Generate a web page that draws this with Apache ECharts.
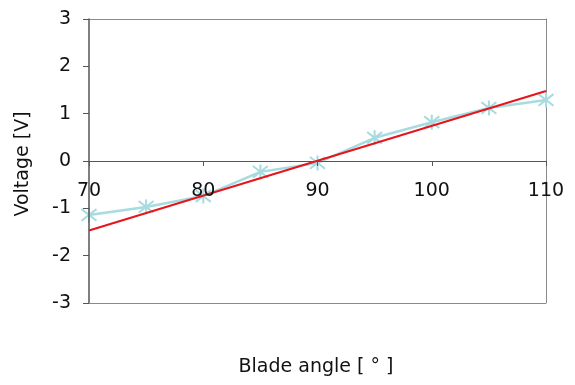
<!DOCTYPE html>
<html>
<head>
<meta charset="utf-8">
<script src="https://cdn.jsdelivr.net/npm/echarts@6/dist/echarts.min.js"></script>
<style>
  html, body { margin: 0; padding: 0; background: #fff; }
  #chart { width: 575px; height: 385px; }
</style>
</head>
<body>
<div id="chart"></div>
<script>
// Measured voltage against blade angle, plus the linear fit
const bladeAngles = [70, 75, 80, 85, 90, 95, 100, 105, 110];
const voltages = [-1.14, -0.97, -0.74, -0.23, -0.04, 0.49, 0.82, 1.12, 1.29];
const fitAngles = [70, 110];
const fitVoltages = [-1.47, 1.48];
const xTicks = [70, 80, 90, 100, 110];
const yTicks = [-3, -2, -1, 0, 1, 2, 3];

const font = '"DejaVu Sans", Verdana, sans-serif';
const frameColor = '#8a8a8a';
const xMin = xTicks[0], xMax = xTicks[xTicks.length - 1];
const yMin = yTicks[0], yMax = yTicks[yTicks.length - 1];

// plain axis used only to draw one side of the plot frame
function frameAxis(position, range) {
  return {
    type: 'value', position: position, min: range[0], max: range[1],
    axisLine: { show: true, onZero: false, lineStyle: { color: frameColor, width: 1 } },
    axisTick: { show: false }, axisLabel: { show: false }, splitLine: { show: false }
  };
}

const chart = echarts.init(document.getElementById('chart'));

chart.setOption({
  animation: false,
  grid: { left: 89, right: 29, top: 19, bottom: 82 },
  xAxis: [
    {
      type: 'value', min: xMin, max: xMax, interval: 10,
      axisLine: { onZero: true, lineStyle: { color: '#555', width: 1 } },
      axisTick: { show: true, length: 5, lineStyle: { color: '#555' } },
      // tick labels sit just under the zero line
      axisLabel: { color: '#111', fontSize: 19, fontFamily: font, margin: -121 },
      splitLine: { show: false },
      z: 5
    },
    frameAxis('top', [xMin, xMax])
  ],
  yAxis: [
    {
      type: 'value', min: yMin, max: yMax, interval: 1,
      axisLine: { show: true, onZero: false, lineStyle: { color: '#555', width: 1.5 } },
      axisTick: { show: true, length: 6, lineStyle: { color: '#555' } },
      axisLabel: { color: '#111', fontSize: 19, fontFamily: font, margin: 18 },
      splitLine: { show: false },
      z: 5
    },
    frameAxis('right', [yMin, yMax])
  ],
  series: [
    {
      type: 'line',
      data: bladeAngles.map((a, i) => [a, voltages[i]]),
      lineStyle: { color: '#a6dbe0', width: 2.5 },
      symbol: 'path://M-7,-7L7,7M-7,7L7,-7M0,-9L0,9',
      symbolSize: 15,
      itemStyle: { color: 'rgba(0,0,0,0)', borderColor: '#a6dbe0', borderWidth: 2 },
      z: 2
    },
    {
      type: 'line',
      data: fitAngles.map((a, i) => [a, fitVoltages[i]]),
      lineStyle: { color: '#e8141c', width: 2 },
      symbol: 'none',
      z: 3
    }
  ]
});

// bottom edge of the frame, placed through the axes' own scales, plus axis titles
const bl = chart.convertToPixel({ xAxisIndex: 0, yAxisIndex: 0 }, [xMin, yMin]);
const br = chart.convertToPixel({ xAxisIndex: 0, yAxisIndex: 0 }, [xMax, yMin]);
const yb = Math.round(bl[1]) + 0.5;

chart.setOption({
  graphic: [
    {
      type: 'line', silent: true, z: 10,
      shape: { x1: bl[0], y1: yb, x2: br[0], y2: yb },
      style: { stroke: frameColor, lineWidth: 1 }
    },
    {
      type: 'text',
      style: { text: 'Voltage [V]', fill: '#111', font: '19px ' + font,
               textAlign: 'center', textVerticalAlign: 'middle' },
      x: 23, y: 164, rotation: Math.PI / 2
    },
    {
      type: 'text',
      style: { text: 'Blade angle [ ° ]', fill: '#111', font: '19px ' + font,
               textAlign: 'center', textVerticalAlign: 'middle' },
      x: 316, y: 367
    }
  ]
});
</script>
</body>
</html>
